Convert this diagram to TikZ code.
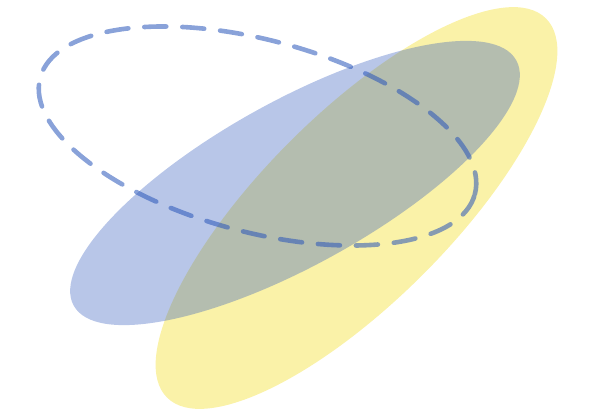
\documentclass[tikz,border=0pt]{standalone}
\begin{document}
\begin{tikzpicture}[x=1pt,y=1pt,
  yellowblob/.style={fill=yellowfill},
  blueblob/.style={fill=bluefill, fill opacity=0.35},
  dashring/.style={draw=dashblue, draw opacity=0.55, line width=4.6pt, line cap=round, dash pattern=on 22pt off 16pt}]
\definecolor{yellowfill}{RGB}{250,242,168}
\definecolor{bluefill}{RGB}{52,92,189}
\definecolor{dashblue}{RGB}{40,85,185}
\useasboundingbox (0,0) rectangle (600,416);
\coordinate (cy) at (356.5,208);
\coordinate (cb) at (295,233);
\coordinate (cd) at (257.5,280);
\path[yellowblob, rotate around={45:(cy)}] (cy) ellipse [x radius=268, y radius=94];
\path[blueblob, rotate around={29:(cb)}] (cb) ellipse [x radius=253, y radius=82];
\path[dashring, rotate around={-15:(cd)}] (cd) ellipse [x radius=225, y radius=96];
\end{tikzpicture}
\end{document}
